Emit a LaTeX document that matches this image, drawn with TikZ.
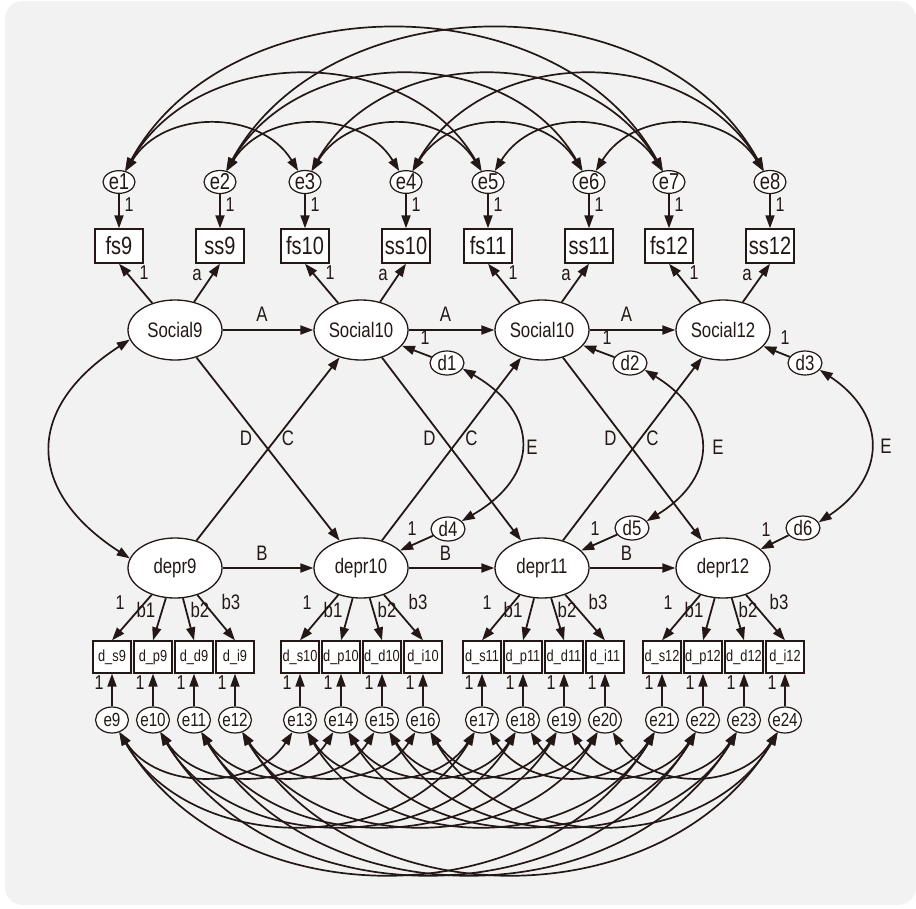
\documentclass[tikz,border=0pt]{standalone}
\usepackage{fontspec}
\setmainfont{Liberation Sans}[FakeStretch=0.8]
\usetikzlibrary{arrows.meta,shapes.geometric}
\definecolor{ink}{HTML}{231815}
\definecolor{bgc}{HTML}{F2F2F2}
\newcommand\zw[1]{\makebox[0pt][c]{#1}}
\tikzset{
  lat/.style={ellipse, draw=ink, fill=white, line width=1.3pt, minimum width=94pt, minimum height=60pt, inner sep=0pt, font=\fontsize{21}{21}\selectfont, text=ink},
  obs/.style={rectangle, draw=ink, fill=white, line width=1.4pt, minimum width=48pt, minimum height=34pt, inner sep=0pt, font=\fontsize{25}{25}\selectfont, text=ink},
  ind/.style={rectangle, draw=ink, fill=white, line width=1.3pt, minimum width=38pt, minimum height=32pt, inner sep=0pt, font=\fontsize{16}{16}\selectfont, text=ink},
  errt/.style={ellipse, draw=ink, fill=white, line width=1.2pt, minimum width=32pt, minimum height=22pt, inner sep=0pt, font=\fontsize{23}{23}\selectfont, text=ink},
  errb/.style={ellipse, draw=ink, fill=white, line width=1.2pt, minimum width=33pt, minimum height=26pt, inner sep=0pt, font=\fontsize{19}{19}\selectfont, text=ink},
  dist/.style={ellipse, draw=ink, fill=white, line width=1.2pt, minimum width=34pt, minimum height=24pt, inner sep=0pt, font=\fontsize{21}{21}\selectfont, text=ink},
  arr/.style={draw=ink, line width=1.8pt, -{Triangle[length=13pt,width=9pt]}},
  cov/.style={draw=ink, line width=1.7pt, {Triangle[length=13pt,width=9pt]}-{Triangle[length=13pt,width=9pt]}},
  lbl/.style={font=\fontsize{21}{21}\selectfont, text=ink, inner sep=0pt},
  one/.style={font=\fontsize{20}{20}\selectfont, text=ink, inner sep=0pt},
}
\begin{document}
\begin{tikzpicture}[x=1pt,y=-1pt]
\useasboundingbox (0,0) rectangle (916,908);
\fill[white] (0,0) rectangle (916,908);
\fill[bgc, rounded corners=18pt] (5,1) rectangle (916,905);

% ---------- top measurement part ----------
\foreach \n/\x/\t in {1/119/fs9,2/220/ss9,3/305/fs10,4/406/ss10,5/488/fs11,6/589/ss11,7/669/fs12,8/770/ss12} {
  \node[obs] (o\n) at (\x,246) {\t};
  \node[errt] (e\n) at (\x,182) {\zw{e\n}};
  \draw[arr] (e\n) -- (o\n);
  \node[one] at (\x+10,205) {1};
}

% ---------- latent variables ----------
\foreach \n/\x/\t in {9/175/Social9,10/361/Social10,11/542/Social10,12/723/Social12} {
  \node[lat] (S\n) at (\x,330) {\t};
  \node[lat] (D\n) at (\x,568) {depr\n};
}

% loadings of Social on fs / ss
\foreach \n/\f/\s/\fx/\sx in {9/1/2/119/220,10/3/4/305/406,11/5/6/488/589,12/7/8/669/770} {
  \draw[arr] (S\n) -- (o\f.south);
  \draw[arr] (S\n) -- (o\s.south);
  \node[one] at (\fx+25,273) {1};
  \node[lbl] at (\sx-23,275) {a};
}

% autoregressive and cross-lagged paths
\foreach \a/\b/\m in {9/10/268,10/11/451.5,11/12/632.5} {
  \draw[arr] (S\a) -- (S\b);
  \draw[arr] (D\a) -- (D\b);
  \node[lbl] at (\m-6,314) {A};
  \node[lbl] at (\m-6,553) {B};
  \draw[arr] (S\a) -- (D\b);
  \draw[arr] (D\a) -- (S\b);
  \node[lbl] at (\m-22,438) {D};
  \node[lbl] at (\m+20,438) {C};
}

% disturbances
\node[dist] (d1) at (447,363) {\zw{d1}};
\node[dist] (d2) at (630,363) {\zw{d2}};
\node[dist] (d3) at (805,363) {\zw{d3}};
\node[dist] (d4) at (448,529) {\zw{d4}};
\node[dist] (d5) at (632,528) {\zw{d5}};
\node[dist] (d6) at (803,528) {\zw{d6}};
\draw[arr] (d1) -- (S10);
\draw[arr] (d2) -- (S11);
\draw[arr] (d3) -- (S12);
\draw[arr] (d4) -- (D10);
\draw[arr] (d5) -- (D11);
\draw[arr] (d6) -- (D12);
\node[one] at (425,338) {1};
\node[one] at (607,338) {1};
\node[one] at (785,338) {1};
\node[one] at (412,529) {1};
\node[one] at (595,529) {1};
\node[one] at (766,530) {1};

\draw[cov] (d1.340) .. controls +(78,45) and +(78,-45) .. (d4.30);
\draw[cov] (d2.335) .. controls +(73,45) and +(73,-45) .. (d5.25);
\draw[cov] (d3.335) .. controls +(68,45) and +(68,-45) .. (d6.20);
\node[lbl] at (532,447) {E};
\node[lbl] at (718,447) {E};
\node[lbl] at (886,446) {E};

\draw[cov] (S9.192) .. controls +(-105,68) and +(-105,-68) .. (D9.168);

% ---------- depression indicators ----------
\foreach \yr/\dx/\bx/\ea/\eb/\ec/\ed in {9/175/112/9/10/11/12,10/362/300/13/14/15/16,11/542/482/17/18/19/20,12/723/662/21/22/23/24} {
  \node[ind] (bs\yr) at (\bx,657) {d\_s\yr};
  \node[ind] (bp\yr) at (\bx+41,657) {d\_p\yr};
  \node[ind] (bd\yr) at (\bx+82,657) {d\_d\yr};
  \node[ind] (bi\yr) at (\bx+123,657) {d\_i\yr};
  \node[errb] (e\ea) at (\bx,720) {\zw{e\ea}};
  \node[errb] (e\eb) at (\bx+41,720) {\zw{e\eb}};
  \node[errb] (e\ec) at (\bx+82,720) {\zw{e\ec}};
  \node[errb] (e\ed) at (\bx+123,720) {\zw{e\ed}};
  \draw[arr] (D\yr) -- (bs\yr.north);
  \draw[arr] (D\yr) -- (bp\yr.north);
  \draw[arr] (D\yr) -- (bd\yr.north);
  \draw[arr] (D\yr) -- (bi\yr.north);
  \node[one] at (\dx-55,603) {1};
  \node[lbl] at (\dx-29,610) {b1};
  \node[lbl] at (\dx+25,610) {b2};
  \node[lbl] at (\dx+56,602) {b3};
  \draw[arr] (e\ea) -- (bs\yr);
  \draw[arr] (e\eb) -- (bp\yr);
  \draw[arr] (e\ec) -- (bd\yr);
  \draw[arr] (e\ed) -- (bi\yr);
  \node[one] at (\bx-13,683) {1};
  \node[one] at (\bx+28,683) {1};
  \node[one] at (\bx+69,683) {1};
  \node[one] at (\bx+110,683) {1};
}

% ---------- error covariances, top ----------
\foreach \a/\b in {1/3,2/4,3/5,4/6,5/7,6/8}
  \draw[cov] (e\a) .. controls +(45,-73) and +(-45,-73) .. (e\b);
\foreach \a/\b in {1/5,2/6,3/7,4/8}
  \draw[cov] (e\a) .. controls +(80,-139) and +(-80,-139) .. (e\b);
\foreach \a/\b in {1/7,2/8}
  \draw[cov] (e\a) .. controls +(110,-200) and +(-110,-200) .. (e\b);

% ---------- error covariances, bottom ----------
\foreach \a/\b in {9/13,10/14,11/15,12/16,13/17,14/18,15/19,16/20,17/21,18/22,19/23,20/24}
  \draw[cov] (e\a) .. controls +(45,71) and +(-45,71) .. (e\b);
\foreach \a/\b in {9/17,10/18,11/19,12/20,13/21,14/22,15/23,16/24}
  \draw[cov] (e\a) .. controls +(80,136) and +(-80,136) .. (e\b);
\foreach \a/\b in {9/21,10/22,11/23,12/24}
  \draw[cov] (e\a) .. controls +(120,200) and +(-120,200) .. (e\b);
\end{tikzpicture}
\end{document}
